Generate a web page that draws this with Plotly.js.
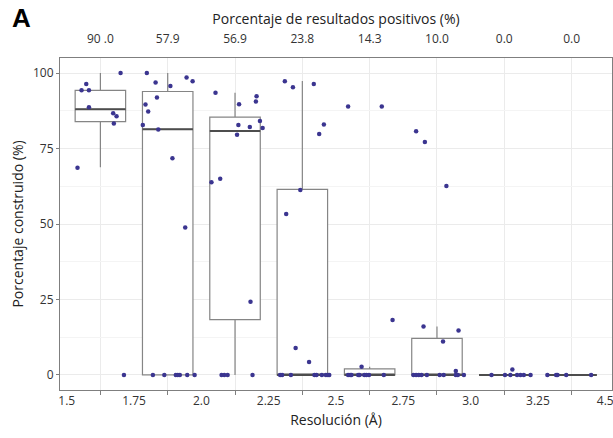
<!DOCTYPE html>
<html>
<head>
<meta charset="utf-8">
<script src="https://cdn.plot.ly/plotly-3.0.1.min.js"></script>
<style>html,body{margin:0;padding:0;background:#fff;}#chart{width:613px;height:438px;}</style>
</head>
<body>
<div id="chart"></div>
<script>
// Bin edge labels (bottom axis) and percentage of positive results (top axis)
const binLabels = ['1.5','1.75','2.0','2.25','2.5','2.75','3.0','3.25','4.5'];
const positiveLabels = ['90 .0','57.9','56.9','23.8','14.3','10.0','0.0','0.0'];

// Box statistics per bin
const q1Vals     = [83.9, 0,    18.3, 0,    0,   0,    0, 0];
const medianVals = [88.0, 81.4, 80.8, 0,    0,   0,    0, 0];
const q3Vals     = [94.3, 93.9, 85.4, 61.5, 2.0, 12.1, 0, 0];
const lowerVals  = [68.8, 0,    0,    0,    0,   0,    0, 0];
const upperVals  = [100,  100,  93.5, 97.4, 2.7, 16.0, 0, 0];

// Individual structures (percentage built) per bin, with horizontal jitter
const bin0Vals = [100, 96.4, 94.3, 94.3, 88.7, 86.7, 85.7, 83.3, 68.6, 0];
const bin0Jit  = [0.30, -0.21, -0.28, -0.17, -0.17, 0.19, 0.24, 0.20, -0.34, 0.35];
const bin1Vals = [100, 96.9, 95.7, 98.5, 97.3, 91.9, 89.6, 87.3, 82.8, 81.3, 71.8, 48.8, 0, 0, 0, 0, 0, 0, 0];
const bin1Jit  = [-0.31, -0.18, 0.04, 0.28, 0.37, -0.16, -0.33, -0.29, -0.37, -0.14, 0.07, 0.26, -0.22, -0.05, 0.12, 0.15, 0.18, 0.29, 0.40];
const bin2Vals = [93.5, 89.7, 92.3, 90.6, 84.1, 82.8, 82.1, 81.8, 79.6, 63.8, 65.0, 24.2, 0, 0, 0, 0];
const bin2Jit  = [-0.29, 0.06, 0.32, 0.31, 0.37, 0.05, 0.22, 0.41, 0.03, -0.35, -0.22, 0.23, -0.20, -0.16, -0.11, 0.26];
const bin3Vals = [97.3, 95.3, 96.4, 83.0, 79.8, 61.3, 53.3, 8.9, 4.3, 0, 0, 0, 0, 0, 0, 0, 0, 0];
const bin3Jit  = [-0.26, -0.14, 0.17, 0.32, 0.25, -0.03, -0.24, -0.10, 0.10, -0.33, -0.30, -0.17, 0.18, 0.21, 0.29, 0.35, 0.38, 0.40];
const bin4Vals = [88.9, 88.9, 18.2, 2.7, 0, 0, 0, 0, 0, 0, 0, 0, 0];
const bin4Jit  = [-0.32, 0.18, 0.34, -0.12, -0.32, -0.29, -0.27, -0.17, -0.15, -0.08, -0.05, -0.01, 0.21];
const bin5Vals = [80.7, 77.2, 62.6, 16.0, 14.7, 11.1, 1.3, 0, 0, 0, 0, 0, 0, 0, 0, 0, 0];
const bin5Jit  = [-0.31, -0.18, 0.14, -0.20, 0.32, 0.09, 0.28, -0.35, -0.31, -0.27, -0.23, -0.15, 0.04, 0.10, 0.28, 0.31, 0.40];
const bin6Vals = [1.8, 0, 0, 0, 0, 0, 0, 0];
const bin6Jit  = [0.12, -0.19, 0.01, 0.09, 0.19, 0.24, 0.29, 0.39];
const bin7Vals = [0, 0, 0, 0, 0];
const bin7Jit  = [-0.36, -0.23, -0.21, -0.08, 0.29];

const allVals = [bin0Vals, bin1Vals, bin2Vals, bin3Vals, bin4Vals, bin5Vals, bin6Vals, bin7Vals];
const allJit  = [bin0Jit, bin1Jit, bin2Jit, bin3Jit, bin4Jit, bin5Jit, bin6Jit, bin7Jit];

const positions = positiveLabels.map((_, i) => i);
const boxWidth = 0.75;
const FONT = '"Open Sans", "Noto Sans", sans-serif';

const ptX = [], ptY = [];
allVals.forEach((vals, i) => {
  vals.forEach((v, j) => { ptX.push(i + allJit[i][j]); ptY.push(v); });
});

const medX = [], medY = [];
positions.forEach(i => {
  medX.push(i - boxWidth / 2, i + boxWidth / 2, null);
  medY.push(medianVals[i], medianVals[i], null);
});

const traces = [
  {
    type: 'box', x: positions, q1: q1Vals, median: medianVals, q3: q3Vals,
    lowerfence: lowerVals, upperfence: upperVals, width: boxWidth,
    whiskerwidth: 0, boxpoints: false, fillcolor: '#ffffff',
    line: {color: '#858585', width: 1.2}, hoverinfo: 'skip', showlegend: false
  },
  {
    type: 'scatter', mode: 'lines', x: medX, y: medY,
    line: {color: '#4d4d4d', width: 2}, hoverinfo: 'skip', showlegend: false
  },
  {
    type: 'scatter', mode: 'markers', x: ptX, y: ptY,
    marker: {color: '#3b3590', size: 4.5}, hoverinfo: 'skip', showlegend: false
  },
  {
    type: 'scatter', mode: 'markers', x: positions, y: positions.map(() => null),
    xaxis: 'x2', yaxis: 'y', hoverinfo: 'skip', showlegend: false
  }
];

const edgePositions = binLabels.map((_, i) => i - 0.5);

const layout = {
  width: 613, height: 438,
  margin: {l: 60, r: 1, t: 58, b: 48},
  paper_bgcolor: '#ffffff', plot_bgcolor: '#ffffff',
  font: {family: FONT, color: '#333333', size: 12},
  showlegend: false,
  xaxis: {
    range: [-0.6, 7.6], tickmode: 'array', tickvals: edgePositions, ticktext: binLabels,
    ticks: '', showgrid: false, zeroline: false, ticklabeloverflow: 'allow',
    showline: true, linecolor: '#7f7f7f', linewidth: 1, mirror: true,
    tickfont: {family: FONT, size: 12, color: '#333333'},
    minor: {tickmode: 'array', tickvals: positions, ticks: 'outside', ticklen: 4, tickcolor: '#7f7f7f', tickwidth: 1,
            showgrid: true, gridcolor: '#ebebeb', gridwidth: 1},
    title: {text: 'Resolución (Å)', font: {family: FONT, size: 14, color: '#222222'}, standoff: 6}
  },
  xaxis2: {
    overlaying: 'x', side: 'top', range: [-0.6, 7.6], tickmode: 'array',
    tickvals: positions, ticktext: positiveLabels, ticks: '', showgrid: false, zeroline: false,
    showline: false, ticklabelstandoff: 12,
    tickfont: {family: FONT, size: 12, color: '#333333'},
    title: {text: 'Porcentaje de resultados positivos (%)', font: {family: FONT, size: 14, color: '#222222'}, standoff: 1}
  },
  yaxis: {
    range: [-5, 105], tickmode: 'array', tickvals: [0, 25, 50, 75, 100],
    ticks: 'outside', ticklen: 3, tickcolor: '#7f7f7f',
    showgrid: true, gridcolor: '#ebebeb', gridwidth: 1, zeroline: false,
    showline: true, linecolor: '#7f7f7f', linewidth: 1, mirror: true,
    tickfont: {family: FONT, size: 12, color: '#333333'},
    minor: {tickmode: 'array', tickvals: [12.5, 37.5, 62.5, 87.5], showgrid: true, gridcolor: '#f4f4f4', gridwidth: 1, ticks: ''},
    title: {text: 'Porcentaje construido (%)', font: {family: FONT, size: 14, color: '#222222'}, standoff: 6}
  },
  annotations: [
    {text: '<b>A</b>', xref: 'paper', yref: 'paper', x: -0.09, y: 1.0, yshift: 40,
     xanchor: 'left', yanchor: 'middle', showarrow: false,
     font: {family: 'Liberation Sans, Arial, sans-serif', size: 26, color: '#000000'}, xshift: 0}
  ]
};

Plotly.newPlot('chart', traces, layout, {displayModeBar: false, staticPlot: true});
</script>
</body>
</html>
